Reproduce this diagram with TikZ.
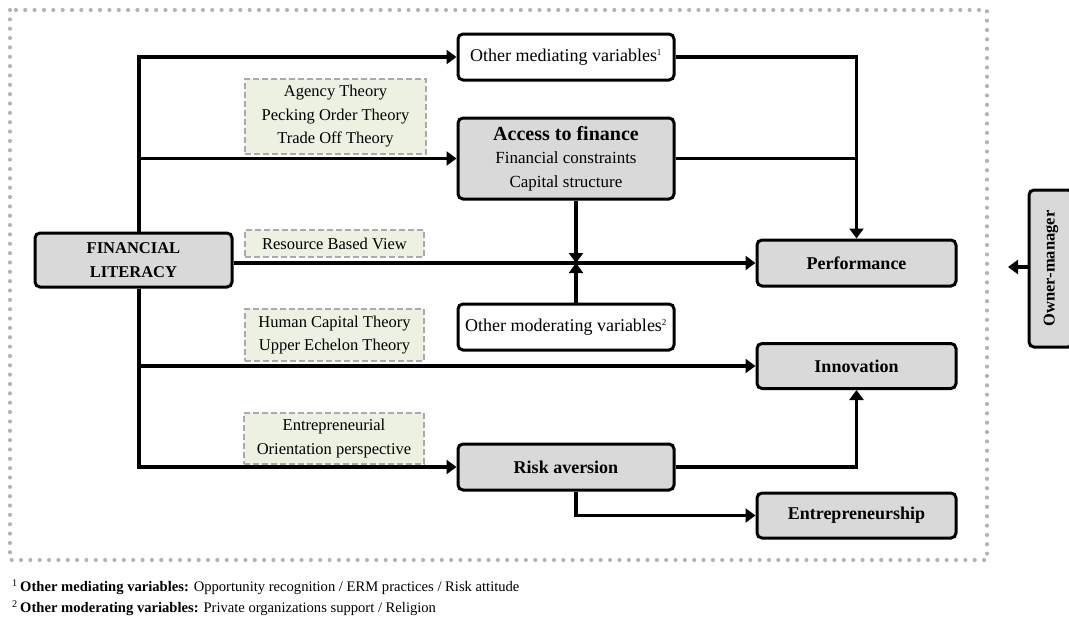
\documentclass[tikz,border=0pt]{standalone}
\usepackage{fontspec}
\setmainfont{Liberation Serif}
\usetikzlibrary{arrows.meta,calc}
\definecolor{boxgray}{RGB}{217,217,217}
\definecolor{theorygreen}{RGB}{237,241,226}
\definecolor{dashgray}{RGB}{170,170,170}
\definecolor{dotgray}{RGB}{180,180,180}
\newcommand{\mainsz}{\fontsize{18}{23.5}\selectfont}
\newcommand{\thsz}{\fontsize{16.5}{23.5}\selectfont}
\tikzset{
  basebox/.style={draw=black, line width=3pt, rounded corners=5pt, inner sep=0pt, align=center, font=\mainsz},
  graybox/.style={basebox, fill=boxgray},
  whitebox/.style={basebox, fill=white},
  theorybox/.style={draw=dashgray, line width=1.8pt, dash pattern=on 6pt off 3pt, fill=theorygreen, inner sep=0pt, align=center, font=\thsz},
  conn/.style={line width=3.5pt, -{Triangle[length=10pt,width=14pt]}},
  plainconn/.style={line width=3.5pt},
  foot/.style={anchor=west, inner sep=0pt, font=\fontsize{14.6}{17}\selectfont}
}
\begin{document}
\begin{tikzpicture}[x=1pt,y=-1pt]
\useasboundingbox (0,0) rectangle (1069,621);
% dotted frame
\draw[dotgray, line width=4.2pt, line cap=round, dash pattern=on 0pt off 9.35pt] (10,10) rectangle (987,560);

% main nodes
\node[graybox, minimum width=197pt, minimum height=54pt, font=\fontsize{16.5}{23.5}\selectfont\bfseries] (fl) at (133.5,260) {FINANCIAL\\LITERACY};
\node[whitebox, minimum width=216pt, minimum height=46pt] (om) at (566,57) {Other mediating variables\textsuperscript{\fontsize{9}{9}\selectfont 1}};
\node[graybox, minimum width=216pt, minimum height=81pt] (af) at (566,158.5) {{\fontsize{20}{23.5}\selectfont\bfseries Access to finance}\\{\fontsize{17}{23.5}\selectfont Financial constraints}\\{\fontsize{17}{23.5}\selectfont Capital structure}};
\node[whitebox, minimum width=216pt, minimum height=46pt] (omod) at (566,327) {Other moderating variables\textsuperscript{\fontsize{9}{9}\selectfont 2}};
\node[graybox, minimum width=216pt, minimum height=46pt, font=\mainsz\bfseries] (ra) at (566,467) {Risk aversion};
\node[graybox, minimum width=199pt, minimum height=46pt, font=\mainsz\bfseries] (perf) at (856.5,263) {Performance};
\node[graybox, minimum width=199pt, minimum height=45pt, font=\mainsz\bfseries] (inno) at (856.5,366) {Innovation};
\node[graybox, minimum width=199pt, minimum height=45pt, font=\mainsz\bfseries] (ent) at (856.5,515.5) {Entrepreneurship};
\node[graybox, minimum width=44pt, minimum height=157pt, font=\fontsize{16.5}{20}\selectfont\bfseries] (own) at (1051,268.5) {\rotatebox{90}{Owner-manager}};

% theory boxes
\node[theorybox, minimum width=181pt, minimum height=75pt] (agency) at (335.5,116.5) {Agency Theory\\Pecking Order Theory\\Trade Off Theory};
\node[theorybox, minimum width=179pt, minimum height=27pt] (rbv) at (334.5,243.5) {Resource Based View};
\node[theorybox, minimum width=179pt, minimum height=52pt] (hc) at (334.5,335) {Human Capital Theory\\Upper Echelon Theory};
\node[theorybox, minimum width=180pt, minimum height=51pt] (eo) at (334,438.5) {Entrepreneurial\\Orientation perspective};

% helper coordinates
\coordinate (trunk) at (139,0);
\coordinate (vx) at (576,0);
\coordinate (cross) at (576,263);
\coordinate (ownend) at (1008,267);

% connectors from financial literacy
\draw[conn] (fl.north -| trunk) |- (om.west);
\draw[conn] (fl.north -| trunk) |- (af.west);
\draw[conn] (fl.south -| trunk) |- (inno.west);
\draw[conn] (fl.south -| trunk) |- (ra.west);
\draw[conn] (fl.east |- perf.west) -- (perf.west);

% moderators
\draw[conn] (af.south -| vx) -- (cross);
\draw[conn] (omod.north -| vx) -- (cross);

% mediators to performance
\draw[conn] (om.east) -| (perf.north);
\draw[plainconn] (af.east) -- (af.east -| perf.north);

% risk aversion
\draw[conn] (ra.east) -| (inno.south);
\draw[conn] (ra.south -| vx) |- (ent.west);

% owner-manager
\draw[conn] (own.west |- ownend) -- (ownend);

% footnotes
\node[foot] (fn1) at (12,587) {\textsuperscript{1}\,\textbf{Other mediating variables:} Opportunity recognition / ERM practices / Risk attitude};
\node[foot] (fn2) at (12,608.5) {\textsuperscript{2}\,\textbf{Other moderating variables:} Private organizations support / Religion};
\end{tikzpicture}
\end{document}
